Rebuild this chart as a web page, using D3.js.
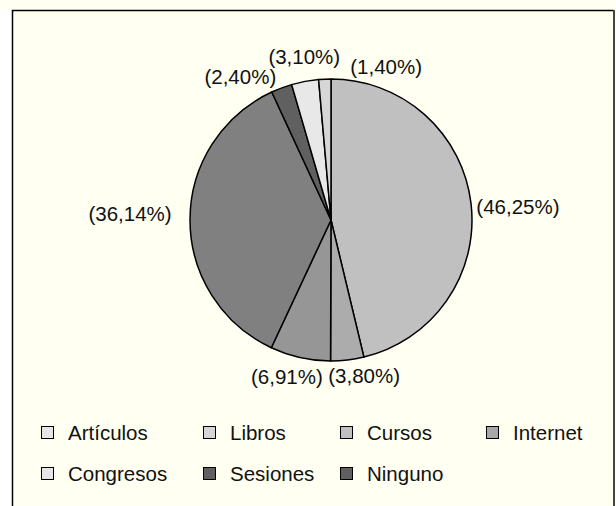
<!DOCTYPE html>
<html>
<head>
<meta charset="utf-8">
<script src="https://cdn.jsdelivr.net/npm/d3@7"></script>
<style>
  html, body { margin: 0; padding: 0; background: #ffffff; }
  svg { display: block; }
  text { font-family: "Liberation Sans", Arial, Helvetica, sans-serif; fill: #111; }
</style>
</head>
<body>
<svg id="chart" width="616" height="506"></svg>
<script>
// ---- data ----
const categories = ["Artículos", "Libros", "Cursos", "Internet", "Congresos", "Sesiones", "Ninguno"];
const legendColors = ["#e6e6e6", "#d6d6d6", "#c0c0c0", "#a8a8a8", "#e6e6e6", "#606060", "#606060"];
const sliceValues = [46.25, 3.80, 6.91, 36.14, 2.40, 3.10, 1.40];
const sliceLabels = ["(46,25%)", "(3,80%)", "(6,91%)", "(36,14%)", "(2,40%)", "(3,10%)", "(1,40%)"];
const sliceColors = ["#c0c0c0", "#acacac", "#969696", "#808080", "#606060", "#e8e8e8", "#d6d6d6"];

// ---- layout ----
const W = 616, H = 506;
const cx = 331, cy = 220, R = 141;
const labelR = 156;
const labelNudge = [[32, 5], [15, 1], [-10, 4], [-45, -6], [-36, 3], [2, -10], [62, 2]];
const fontSize = 20.5;

const svg = d3.select("#chart");

// background
svg.append("rect").attr("x", 0).attr("y", 0).attr("width", W).attr("height", H).attr("fill", "#fffff2");
svg.append("rect").attr("x", 0).attr("y", 10).attr("width", 12).attr("height", H - 10).attr("fill", "#ffffff");
// frame
svg.append("path")
  .attr("d", `M12.5,${H} L12.5,10.5 L613.5,10.5`)
  .attr("fill", "none").attr("stroke", "#000").attr("stroke-width", 1.5);
svg.append("line")
  .attr("x1", 614).attr("x2", 614).attr("y1", 10).attr("y2", H)
  .attr("stroke", "#444").attr("stroke-width", 2);

// pie
const pie = d3.pie().sort(null).value(d => d);
const arcs = pie(sliceValues);
const arc = d3.arc().innerRadius(0).outerRadius(R);
const g = svg.append("g").attr("transform", `translate(${cx},${cy})`);
g.selectAll("path.slice")
  .data(arcs)
  .join("path")
  .attr("class", "slice")
  .attr("d", arc)
  .attr("fill", (d, i) => sliceColors[i])
  .attr("stroke", "#000")
  .attr("stroke-width", 1.5)
  .attr("stroke-linejoin", "round");

// labels
g.selectAll("text.lbl")
  .data(arcs)
  .join("text")
  .attr("class", "lbl")
  .attr("x", (d, i) => Math.sin((d.startAngle + d.endAngle) / 2) * labelR + labelNudge[i][0])
  .attr("y", (d, i) => -Math.cos((d.startAngle + d.endAngle) / 2) * labelR + labelNudge[i][1])
  .attr("text-anchor", "middle")
  .attr("dominant-baseline", "central")
  .attr("font-size", fontSize)
  .text((d, i) => sliceLabels[i]);

// legend
const colX = [41, 203, 340, 486];
const rowY = [432, 473];
const sq = 12;
const leg = svg.append("g");
categories.forEach((c, i) => {
  const col = i < 4 ? i : i - 4;
  const row = i < 4 ? 0 : 1;
  const x = colX[col], y = rowY[row];
  leg.append("rect")
    .attr("x", x + 0.5).attr("y", y - sq / 2 + 0.5)
    .attr("width", sq).attr("height", sq)
    .attr("fill", legendColors[i]).attr("stroke", "#000").attr("stroke-width", 1);
  leg.append("text")
    .attr("x", x + 27).attr("y", y)
    .attr("dominant-baseline", "central")
    .attr("font-size", fontSize)
    .text(c);
});
</script>
</body>
</html>
